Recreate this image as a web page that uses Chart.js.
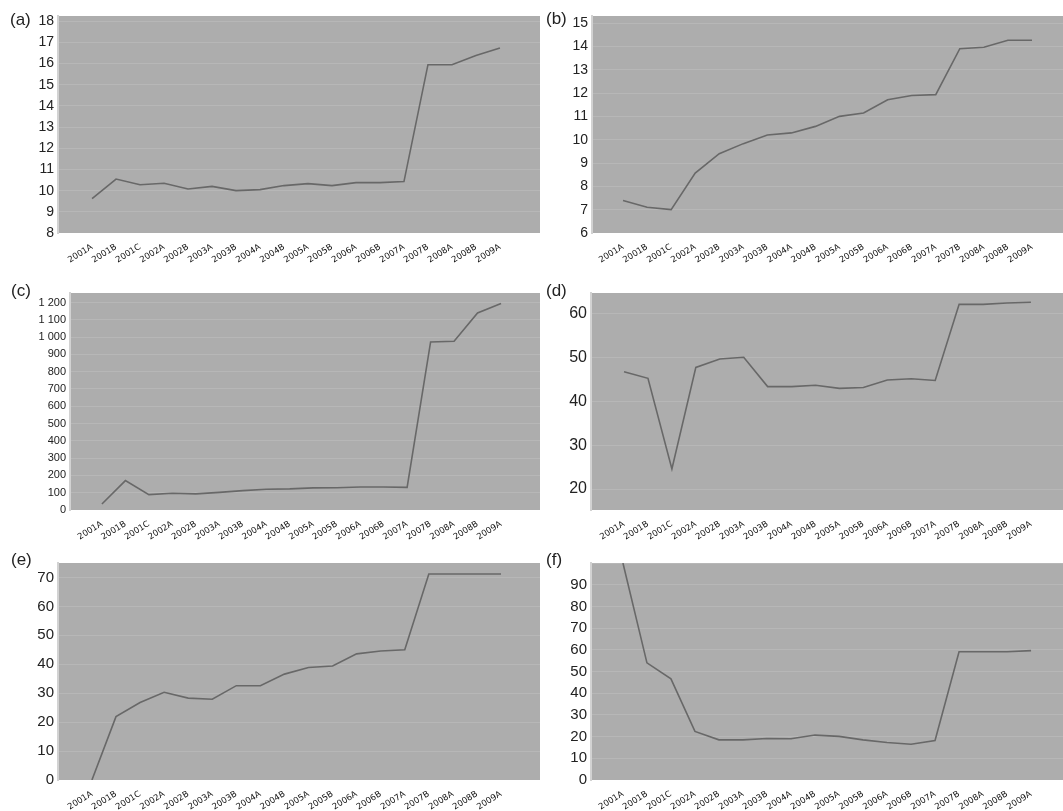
<!DOCTYPE html>
<html>
<head>
<meta charset="utf-8">
<script src="https://cdn.jsdelivr.net/npm/chart.js@4.4.1/dist/chart.umd.min.js"></script>
<style>
  body { margin: 0; background: #fff; width: 1063px; height: 811px; overflow: hidden; position: relative; font-family: "Liberation Sans", Arial, sans-serif; }
  .panel { position: absolute; }
  .tag { position: absolute; font-size: 17px; color: #222; line-height: 1; }
</style>
</head>
<body>
<div class="panel" style="left:0;top:0"><canvas id="ca" width="540" height="270"></canvas></div>
<div class="panel" style="left:540px;top:0"><canvas id="cb" width="523" height="270"></canvas></div>
<div class="panel" style="left:0;top:270px"><canvas id="cc" width="540" height="270"></canvas></div>
<div class="panel" style="left:540px;top:270px"><canvas id="cd" width="523" height="270"></canvas></div>
<div class="panel" style="left:0;top:540px"><canvas id="ce" width="540" height="271"></canvas></div>
<div class="panel" style="left:540px;top:540px"><canvas id="cf" width="523" height="271"></canvas></div>
<div class="tag" style="left:10px;top:11px">(a)</div>
<div class="tag" style="left:546px;top:10px">(b)</div>
<div class="tag" style="left:11px;top:282px">(c)</div>
<div class="tag" style="left:546px;top:282px">(d)</div>
<div class="tag" style="left:11px;top:551px">(e)</div>
<div class="tag" style="left:546px;top:551px">(f)</div>
<script>
const periods = ['2001A', '2001B', '2001C', '2002A', '2002B', '2003A', '2003B', '2004A', '2004B',
                 '2005A', '2005B', '2006A', '2006B', '2007A', '2007B', '2008A', '2008B', '2009A'];

const seriesA = [9.62, 10.55, 10.28, 10.35, 10.08, 10.2, 10.0, 10.05, 10.24,
                 10.33, 10.24, 10.38, 10.38, 10.43, 15.95, 15.95, 16.38, 16.74];
const seriesB = [7.39, 7.1, 7.0, 8.57, 9.4, 9.83, 10.2, 10.29, 10.57,
                 11.0, 11.14, 11.71, 11.89, 11.93, 13.9, 13.96, 14.26, 14.26];
const seriesC = [35, 170, 89, 97, 93, 102, 112, 120, 122,
                 128, 129, 133, 133, 131, 972, 976, 1140, 1194];
const seriesD = [46.8, 45.3, 24.6, 47.8, 49.7, 50.1, 43.4, 43.4, 43.7,
                 43.0, 43.2, 44.9, 45.2, 44.8, 62.2, 62.2, 62.5, 62.7];
const seriesE = [0, 21.9, 26.8, 30.3, 28.3, 27.9, 32.6, 32.6, 36.6,
                 38.9, 39.4, 43.6, 44.6, 45.0, 71.2, 71.2, 71.2, 71.2];
const seriesF = [100, 54.0, 46.6, 22.4, 18.5, 18.5, 19.1, 19.0, 20.7,
                 20.1, 18.5, 17.3, 16.5, 18.2, 59.1, 59.1, 59.1, 59.6];

// gray plot background
const plotBg = {
  id: 'plotBg',
  beforeDraw(chart) {
    const { ctx, chartArea: a } = chart;
    ctx.save();
    ctx.fillStyle = '#adadad';
    ctx.fillRect(a.left, a.top, a.right - a.left, a.bottom - a.top);
    ctx.restore();
  }
};

function spaced(v) {
  return String(v).replace(/\B(?=(\d{3})+(?!\d))/g, ' ');
}

function drawPanel(id, values, p) {
  new Chart(document.getElementById(id), {
    type: 'line',
    data: {
      datasets: [{
        data: values.map((v, i) => ({ x: i, y: v })),
        borderColor: '#686868',
        borderWidth: 1.6,
        pointRadius: 0,
        tension: 0,
        fill: false
      }]
    },
    options: {
      responsive: false,
      animation: false,
      events: [],
      layout: { padding: { top: p.top, left: 0, right: 0, bottom: 0 } },
      plugins: { legend: { display: false }, tooltip: { enabled: false } },
      scales: {
        x: {
          type: 'linear',
          min: p.xMin,
          max: p.xMax,
          afterFit: s => { s.height = p.xH; },
          grid: { display: false },
          border: { display: false },
          ticks: {
            stepSize: 1,
            includeBounds: false,
            autoSkip: false,
            minRotation: 32,
            maxRotation: 32,
            padding: 1,
            color: '#111',
            font: { family: '"DejaVu Sans", Verdana, sans-serif', size: 8.5 },
            callback: v => (Number.isInteger(v) && periods[v]) ? periods[v] : ''
          }
        },
        y: {
          min: p.yMin,
          max: p.yMax,
          afterFit: s => { s.width = p.yW; },
          grid: { color: 'rgba(255,255,255,0.12)', drawTicks: false },
          border: { color: '#d2d2d2', width: 2 },
          ticks: {
            stepSize: p.step,
            includeBounds: false,
            padding: 4,
            color: '#222',
            font: { family: '"Liberation Sans", Arial, sans-serif', size: p.fs },
            callback: p.fmt || (v => v)
          }
        }
      }
    },
    plugins: [plotBg]
  });
}

drawPanel('ca', seriesA, { top: 16, xH: 37, yW: 58, xMin: -1.42, xMax: 18.67, yMin: 8, yMax: 18.25, step: 1, fs: 14 });
drawPanel('cb', seriesB, { top: 16, xH: 37, yW: 52, xMin: -1.29, xMax: 18.29, yMin: 6, yMax: 15.3, step: 1, fs: 14 });
drawPanel('cc', seriesC, { top: 23, xH: 30, yW: 70, xMin: -1.36, xMax: 18.66, yMin: 0, yMax: 1255, step: 100, fs: 11, fmt: spaced });
drawPanel('cd', seriesD, { top: 23, xH: 30, yW: 51, xMin: -1.38, xMax: 18.34, yMin: 15.2, yMax: 64.8, step: 10, fs: 16 });
drawPanel('ce', seriesE, { top: 23, xH: 31, yW: 58, xMin: -1.41, xMax: 18.62, yMin: 0, yMax: 75, step: 10, fs: 15 });
drawPanel('cf', seriesF, { top: 23, xH: 31, yW: 51, xMin: -1.33, xMax: 18.33, yMin: 0, yMax: 100, step: 10, fs: 15, fmt: v => (v > 90 ? '' : v) });
</script>
</body>
</html>
